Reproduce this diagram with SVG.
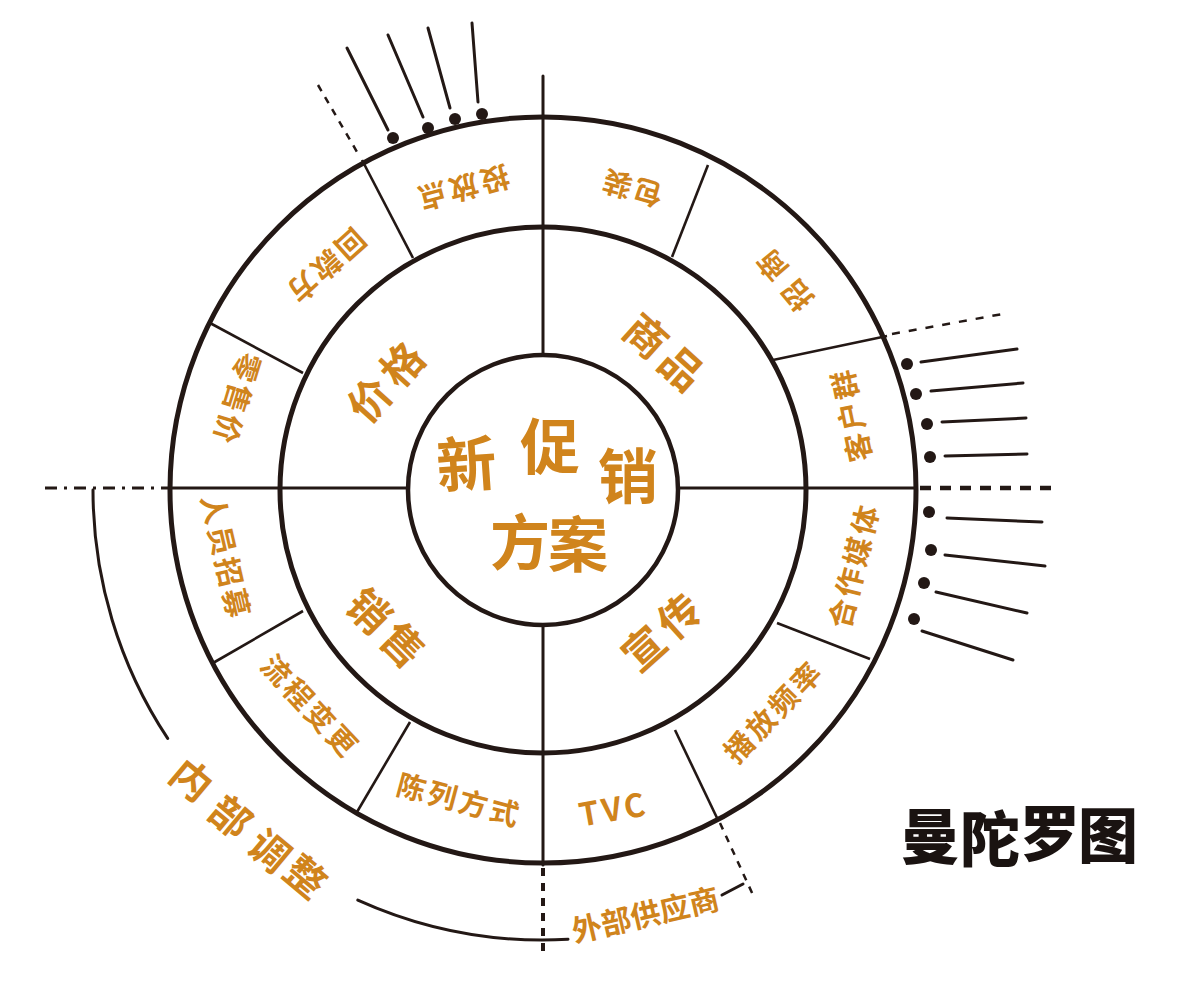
<svg xmlns="http://www.w3.org/2000/svg" width="1200" height="982" viewBox="0 0 1200 982">
<style>
.ring{fill:none;stroke:#231815;stroke-width:5}
.ln{fill:none;stroke:#231815;stroke-width:3;stroke-linecap:round}
.dv{fill:none;stroke:#231815;stroke-width:2.6}
.ds{fill:none;stroke:#231815;stroke-width:3}
.dot{fill:#231815}
.t{font-family:"Noto Sans CJK SC","Noto Sans",sans-serif;font-weight:700;fill:#D0841C;text-anchor:middle;dominant-baseline:central}
.o{font-size:29px;letter-spacing:3px}
.m{font-size:42px;letter-spacing:6px}
.c{font-size:60px}
.k{font-family:"Noto Sans CJK SC",sans-serif;font-weight:900;fill:#1a1311;font-size:60px;text-anchor:middle;dominant-baseline:central}
</style>
<rect width="1200" height="982" fill="#ffffff"/>
<g id="connectors">
<circle class="ring" cx="543" cy="490" r="373"/>
<circle class="ring" cx="543" cy="490" r="263"/>
<circle class="ring" cx="543" cy="490" r="135" style="stroke-width:4.5"/>
<line class="ln" x1="543" y1="76" x2="543" y2="355"/>
<line class="ln" x1="543" y1="625" x2="543" y2="865"/>
<line class="ln" x1="171" y1="488" x2="407" y2="488"/>
<line class="ln" x1="678" y1="488" x2="916" y2="488"/>
<line class="ds" x1="543" y1="868" x2="543" y2="958" stroke-dasharray="8 7" style="stroke-width:4"/>
<line class="ds" x1="45" y1="488" x2="168" y2="488" stroke-dasharray="12 7 3 7"/>
<line class="ds" x1="920" y1="488" x2="1057" y2="488" stroke-dasharray="11 9" style="stroke-width:4.5"/>
<line class="dv" x1="362" y1="160" x2="413" y2="258"/>
<line class="dv" x1="210" y1="323" x2="303" y2="373"/>
<line class="dv" x1="213" y1="663" x2="303" y2="611"/>
<line class="dv" x1="357" y1="812" x2="410" y2="722"/>
<line class="dv" x1="672" y1="257" x2="708" y2="165"/>
<line class="dv" x1="773" y1="360" x2="887" y2="336"/>
<line class="dv" x1="777" y1="623" x2="870" y2="659"/>
<line class="dv" x1="675" y1="730" x2="718" y2="820"/>
<line class="ds" x1="318" y1="85" x2="360" y2="157" stroke-dasharray="7 7" style="stroke-width:2.5"/>
<line class="ds" x1="892" y1="334" x2="1008" y2="313" stroke-dasharray="8 9" style="stroke-width:2.5"/>
<line class="ds" x1="720" y1="823" x2="753" y2="895" stroke-dasharray="7 7" style="stroke-width:2.5"/>
<line class="ln" x1="722" y1="895" x2="743" y2="884"/>
<path class="ln" d="M93,490 A450,450 0 0 0 167.7,738.4"/>
<path class="ln" d="M357.8,900.1 A450,450 0 0 0 568,939.3"/>
<g>
<circle class="dot" cx="393" cy="138" r="6"/><line class="ln" x1="388" y1="130" x2="347" y2="48"/>
<circle class="dot" cx="428" cy="128" r="6"/><line class="ln" x1="423" y1="117" x2="388" y2="35"/>
<circle class="dot" cx="455" cy="119" r="6"/><line class="ln" x1="450" y1="108" x2="428" y2="28"/>
<circle class="dot" cx="482" cy="114" r="6"/><line class="ln" x1="478" y1="102" x2="472" y2="23"/>
<circle class="dot" cx="907" cy="364" r="6"/><line class="ln" x1="921" y1="362" x2="1017" y2="349"/>
<circle class="dot" cx="916" cy="394" r="6"/><line class="ln" x1="931" y1="391" x2="1023" y2="383"/>
<circle class="dot" cx="927" cy="424" r="6"/><line class="ln" x1="942" y1="422" x2="1026" y2="418"/>
<circle class="dot" cx="930" cy="457" r="6"/><line class="ln" x1="945" y1="456" x2="1027" y2="454"/>
<circle class="dot" cx="929" cy="512" r="6"/><line class="ln" x1="947" y1="518" x2="1042" y2="522"/>
<circle class="dot" cx="931" cy="550" r="6"/><line class="ln" x1="945" y1="555" x2="1045" y2="566"/>
<circle class="dot" cx="924" cy="583" r="6"/><line class="ln" x1="936" y1="592" x2="1027" y2="613"/>
<circle class="dot" cx="914" cy="619" r="6"/><line class="ln" x1="922" y1="631" x2="1013" y2="660"/>
</g>
</g>
<g id="center"><text class="t c" x="466" y="460" transform="rotate(-4 466 460)">新</text><text class="t c" x="550" y="442">促</text><text class="t c" x="628" y="472">销</text><text class="t c" x="520" y="538">方</text><text class="t c" x="578" y="540">案</text></g>
<g id="mid-shangpin"><text class="t m" x="668" y="352" transform="rotate(42 668 352)">商品</text></g>
<g id="mid-jiage"><text class="t m" x="386" y="378" transform="rotate(-48 386 378)">价格</text></g>
<g id="mid-xiaoshou"><text class="t m" x="390" y="628" transform="rotate(45 390 628)">销售</text></g>
<g id="mid-xuanchuan"><text class="t m" x="662" y="628" transform="rotate(-42 662 628)">宣传</text></g>
<g id="o-toufangdian"><text class="t o" x="463" y="190" transform="rotate(165 463 190)">投放点</text></g>
<g id="o-huikuan"><text class="t o" x="327" y="268" transform="rotate(138 327 268)">回款方</text></g>
<g id="o-lingshoujia"><text class="t o" x="239" y="400" transform="rotate(107 239 400)">零售价</text></g>
<g id="o-renyuan"><text class="t o" x="228" y="557" transform="rotate(77 228 557)">人员招募</text></g>
<g id="o-liucheng"><text class="t o" x="312" y="705" transform="rotate(47 312 705)">流程变更</text></g>
<g id="o-chenlie"><text class="t o" x="460" y="798" transform="rotate(15 460 798)">陈列方式</text></g>
<g id="o-tvc"><text class="t o" x="613" y="807" transform="rotate(-10 613 807)" style="font-size:32px">TVC</text></g>
<g id="o-bofang"><text class="t o" x="772" y="710" transform="rotate(-46 772 710)">播放频率</text></g>
<g id="o-hezuo"><text class="t o" x="852" y="565" transform="rotate(-76 852 565)">合作媒体</text></g>
<g id="o-kehu"><text class="t o" x="849" y="415" transform="rotate(-102 849 415)">客户群</text></g>
<g id="o-zhaoshang"><text class="t o" x="780" y="278" transform="rotate(-130 780 278)" style="letter-spacing:10px">招商</text></g>
<g id="o-baozhuang"><text class="t o" x="631" y="190" transform="rotate(-164 631 190)">包装</text></g>
<g id="label-neibu"><text class="t" style="font-size:40px" x="193" y="778" transform="rotate(40 193 778)">内</text><text class="t" style="font-size:40px" x="232" y="815" transform="rotate(40 232 815)">部</text><text class="t" style="font-size:40px" x="271" y="849" transform="rotate(40 271 849)">调</text><text class="t" style="font-size:40px" x="307" y="875" transform="rotate(40 307 875)">整</text></g>
<g id="label-waibu"><text class="t" style="font-size:30px" x="645" y="913" transform="rotate(-13 645 913)">外部供应商</text></g>
<g id="title"><text class="k" x="930" y="832">曼</text><text class="k" x="990" y="835">陀</text><text class="k" x="1050" y="829">罗</text><text class="k" x="1108" y="831">图</text></g>
</svg>
